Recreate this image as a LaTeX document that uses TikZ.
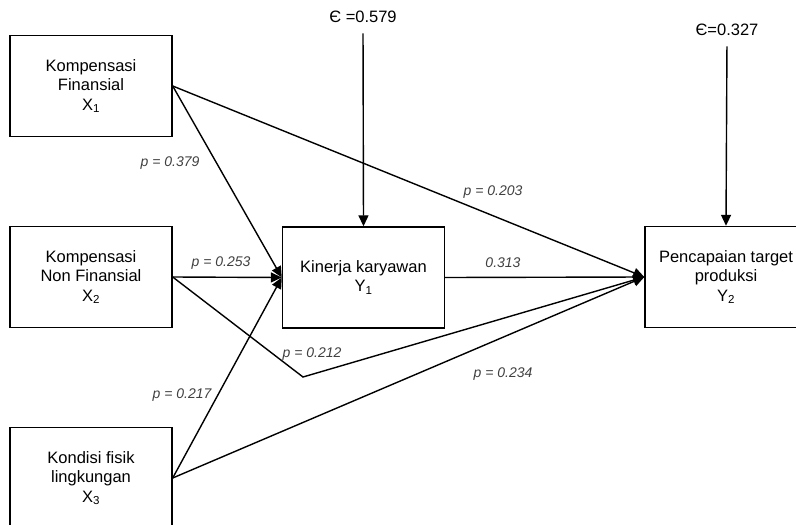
\documentclass[tikz,border=0pt]{standalone}
\usepackage{fontspec}
\setmainfont{Liberation Sans}
\usetikzlibrary{arrows.meta}

\tikzset{
  var/.style={draw, line width=1.4pt, minimum width=162pt, minimum height=101pt,
    align=center, inner sep=2pt, font=\fontsize{16.5}{19.5}\selectfont},
  arr/.style={line width=1.4pt, -{Triangle[length=11pt,width=10pt]}},
  coef/.style={font=\fontsize{14}{16}\selectfont\itshape, text=black!75},
  resid/.style={font=\fontsize{16.5}{19.5}\selectfont},
}

\begin{document}
\begin{tikzpicture}[x=1pt,y=-1pt]
    \useasboundingbox (0,0) rectangle (796,525);

    % variabel bebas
    \node[var] (x1) at (91,86) {Kompensasi\\Finansial\\X\textsubscript{1}};
    \node[var] (x2) at (91,277) {Kompensasi\\Non Finansial\\X\textsubscript{2}};
    \node[var] (x3) at (91,478) {Kondisi fisik\\lingkungan\\X\textsubscript{3}};

    % variabel terikat
    \node[var] (y1) at (363.5,277.5) {Kinerja karyawan\\Y\textsubscript{1}};
    \node[var] (y2) at (726,277) {Pencapaian target\\produksi\\Y\textsubscript{2}};

    % residual
    \node[resid] (e1) at (363,17) {Є =0.579};
    \node[resid] (e2) at (727,30) {Є=0.327};
    \draw[arr, shorten <=7pt] (e1.south) -- (y1.north);
    \draw[arr, shorten <=7pt] (e2.south) -- (y2.north);

    % jalur ke Y1
    \draw[arr] (x1.east) -- (y1.west);
    \draw[arr] (x2.east) -- (y1.west);
    \draw[arr] (x3.east) -- (y1.west);

    % jalur ke Y2
    \coordinate (bend) at (303,377);
    \draw[arr] (x1.east) -- (y2.west);
    \draw[arr] (x2.east) -- (bend) -- (y2.west);
    \draw[arr] (x3.east) -- (y2.west);
    \draw[arr] (y1.east) -- (y2.west);

    % koefisien jalur
    \node[coef] (p1) at (170,163) {p = 0.379};
    \node[coef] (p2) at (221,263) {p = 0.253};
    \node[coef] (p3) at (182,395) {p = 0.217};
    \node[coef] (p4) at (493,192) {p = 0.203};
    \node[coef] (p5) at (503,263) {0.313};
    \node[coef] (p6) at (312,354) {p = 0.212};
    \node[coef] (p7) at (503,374) {p = 0.234};
\end{tikzpicture}
\end{document}
